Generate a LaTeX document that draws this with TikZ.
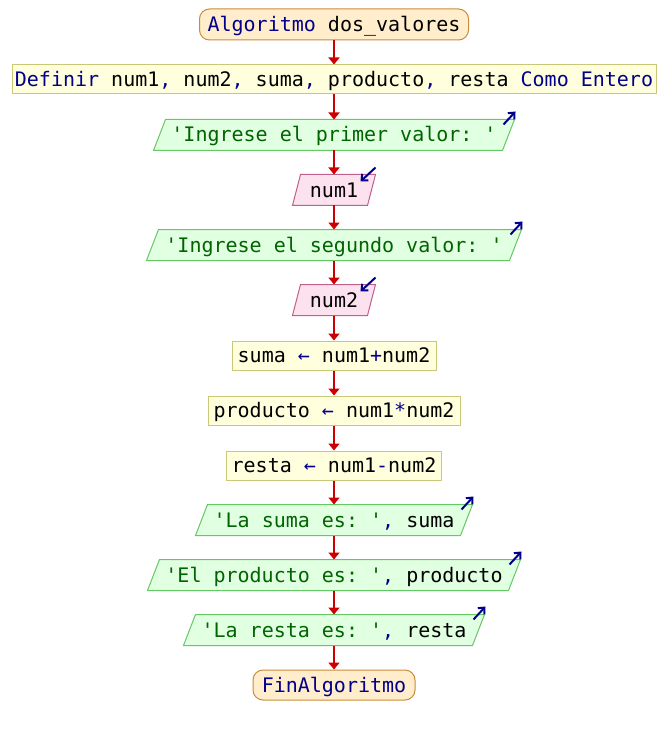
\documentclass[tikz,border=0pt]{standalone}
\usepackage{fontspec}
\setmonofont{DejaVu Sans Mono}
\usetikzlibrary{arrows.meta}
\definecolor{kwcol}{RGB}{0,0,140}
\definecolor{strcol}{RGB}{0,100,0}
\definecolor{termfill}{RGB}{255,237,204}
\definecolor{termline}{RGB}{200,140,60}
\definecolor{procfill}{RGB}{255,255,221}
\definecolor{procline}{RGB}{200,200,120}
\definecolor{outfill}{RGB}{225,255,225}
\definecolor{outline}{RGB}{100,200,100}
\definecolor{infill}{RGB}{252,226,238}
\definecolor{inline}{RGB}{192,96,140}
\definecolor{arrred}{RGB}{204,0,0}
\newcommand\kwd[1]{\textcolor{kwcol}{#1}}
\newcommand\strg[1]{\textcolor{strcol}{#1}}
\newcommand\q{\textquotesingle}
\pgfdeclarelayer{bg}
\pgfsetlayers{bg,main}
\begin{document}
\begin{tikzpicture}[x=1pt,y=-1pt,
  base/.style={font=\fontsize{20}{24}\selectfont\ttfamily, text height=15pt, text depth=1pt,
    inner sep=0pt, minimum height=30pt, line width=1pt, align=center},
  term/.style={base, draw=termline, fill=termfill, rounded corners=10pt},
  proc/.style={base, draw=procline, fill=procfill, minimum height=29pt},
  outp/.style={base},
  inp/.style={base},
  outshape/.style={draw=outline, fill=outfill, line width=1pt},
  inshape/.style={draw=inline, fill=infill, line width=1pt},
  conn/.style={draw=arrred, line width=2pt, -{Triangle[length=7pt,width=11pt]}},
  icon/.style={draw=kwcol, line width=2pt, -{Straight Barb[length=5pt,width=9pt]}}
]
\useasboundingbox (0,0) rectangle (668,735);

\node[term, minimum width=269pt, minimum height=31pt] (start) at (334,24.5) {\kwd{Algoritmo} dos\_valores};
\node[proc, minimum width=644pt] (def) at (334,79.5) {\kwd{Definir} num1\kwd{,} num2\kwd{,} suma\kwd{,} producto\kwd{,} resta \kwd{Como Entero}};
\node[outp, minimum width=348pt] (o1) at (334,135) {\strg{\q Ingrese el primer valor: \q}};
\node[inp, minimum width=74pt] (i1) at (334,190) {num1};
\node[outp, minimum width=362pt] (o2) at (334,245) {\strg{\q Ingrese el segundo valor: \q}};
\node[inp, minimum width=74pt] (i2) at (334,300) {num2};
\node[proc, minimum width=204pt] (a1) at (334,355.5) {suma \kwd{←} num1\kwd{+}num2};
\node[proc, minimum width=252pt] (a2) at (334,410.5) {producto \kwd{←} num1\kwd{*}num2};
\node[proc, minimum width=215pt] (a3) at (334,465.5) {resta \kwd{←} num1\kwd{-}num2};
\node[outp, minimum width=264pt] (o3) at (334,520) {\strg{\q La suma es: \q}\kwd{,} suma};
\node[outp, minimum width=360pt] (o4) at (334,575) {\strg{\q El producto es: \q}\kwd{,} producto};
\node[outp, minimum width=288pt] (o5) at (334,630) {\strg{\q La resta es: \q}\kwd{,} resta};
\node[term, minimum width=162pt] (fin) at (334,685) {\kwd{FinAlgoritmo}};

\begin{pgfonlayer}{bg}
\foreach \n in {o1,o2,o3,o4,o5}{
  \draw[outshape] ([xshift=-6pt]\n.south west) -- ([xshift=-6pt]\n.south east)
     -- ([xshift=6pt]\n.north east) -- ([xshift=6pt]\n.north west) -- cycle;
}
\foreach \n in {i1,i2}{
  \draw[inshape] ([xshift=-4pt]\n.south west) -- ([xshift=-4pt]\n.south east)
     -- ([xshift=4pt]\n.north east) -- ([xshift=4pt]\n.north west) -- cycle;
}
\end{pgfonlayer}

\foreach \n in {o1,o2,o3,o4,o5}{
  \draw[icon] ([xshift=-5pt,yshift=-5pt]\n.north east) -- ([xshift=7pt,yshift=8pt]\n.north east);
}
\foreach \n in {i1,i2}{
  \draw[icon] ([xshift=4pt,yshift=7pt]\n.north east) -- ([xshift=-11pt,yshift=-7pt]\n.north east);
}

\draw[conn] (start.south) -- (def.north);
\draw[conn] (def.south) -- (o1.north);
\draw[conn] (o1.south) -- (i1.north);
\draw[conn] (i1.south) -- (o2.north);
\draw[conn] (o2.south) -- (i2.north);
\draw[conn] (i2.south) -- (a1.north);
\draw[conn] (a1.south) -- (a2.north);
\draw[conn] (a2.south) -- (a3.north);
\draw[conn] (a3.south) -- (o3.north);
\draw[conn] (o3.south) -- (o4.north);
\draw[conn] (o4.south) -- (o5.north);
\draw[conn] (o5.south) -- (fin.north);
\end{tikzpicture}
\end{document}
